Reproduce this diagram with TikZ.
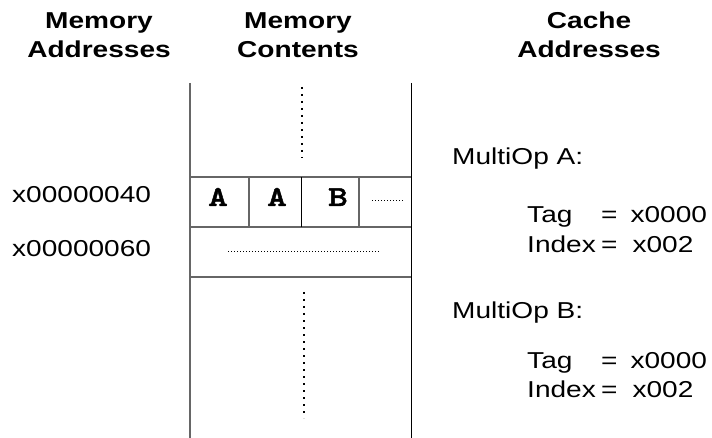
\documentclass[tikz,border=0pt]{standalone}
\usepackage{fontspec}
\setmainfont{Liberation Sans}[FakeStretch=1.22]
\newfontfamily\cellfont{lmmonolt10-bold}[Extension=.otf, FakeStretch=1.3, FakeBold=1.6]
\usepackage{tikz}
\usetikzlibrary{positioning}

\tikzset{
  header/.style={font=\fontsize{23}{29}\selectfont\bfseries, align=center, inner sep=0pt},
  label/.style={font=\fontsize{23}{28}\selectfont, inner sep=0pt, anchor=base west},
  cell/.style={font=\fontsize{29}{30}\selectfont\cellfont, inner sep=0pt, anchor=base},
  memline/.style={black!60, line width=1.1pt},
  darkline/.style={black, line width=1pt},
  bigdots/.style={black, line width=2pt, dash pattern=on 2pt off 5pt},
  finedots/.style={black, line width=0.8pt, dash pattern=on 1pt off 2pt}
}

\begin{document}
\begin{tikzpicture}[x=1pt, y=-1pt]
\useasboundingbox (0,0) rectangle (712,438);

% column headers
\node[header] (hmemaddr) at (99,35) {Memory\\Addresses};
\node[header] (hmemcont) at (298,35) {Memory\\Contents};
\node[header] (hcache)   at (589,35) {Cache\\Addresses};

% memory column
\draw[memline]  (190,83) -- (190,438);
\draw[darkline] (411,83) -- (411,438);
\draw[memline]  (190,177) -- (411,177);
\draw[memline]  (190,227) -- (411,227);
\draw[memline]  (190,277) -- (411,277);
% cell dividers
\draw[memline]  (249,177) -- (249,227);
\draw[darkline] (301,177) -- (301,227);
\draw[memline]  (359,177) -- (359,227);

% cell contents
\node[cell] (cellA1) at (218,206) {A};
\node[cell] (cellA2) at (277,206) {A};
\node[cell] (cellB)  at (338,206) {B};

% dotted continuations
\draw[bigdots]  (302,87) -- (302,158);
\draw[bigdots]  (304,292) -- (304,418);
\draw[finedots] (372,200) -- (403,200);
\draw[finedots] (228,251) -- (380,251);

% memory addresses
\node[label] (addr40) at (12,203) {x00000040};
\node[label] (addr60) at (12,257) {x00000060};

% cache addresses
\node[label] (opA)    at (452,165) {MultiOp A:};
\node[label] (tagA)   at (527,223) {\makebox[74pt][l]{Tag}=\hspace{13pt}x0000};
\node[label] (indexA) at (527,253) {\makebox[74pt][l]{Index}=\hspace{15pt}x002};
\node[label] (opB)    at (452,318) {MultiOp B:};
\node[label] (tagB)   at (527,368) {\makebox[74pt][l]{Tag}=\hspace{13pt}x0000};
\node[label] (indexB) at (527,397) {\makebox[74pt][l]{Index}=\hspace{15pt}x002};

\end{tikzpicture}
\end{document}
